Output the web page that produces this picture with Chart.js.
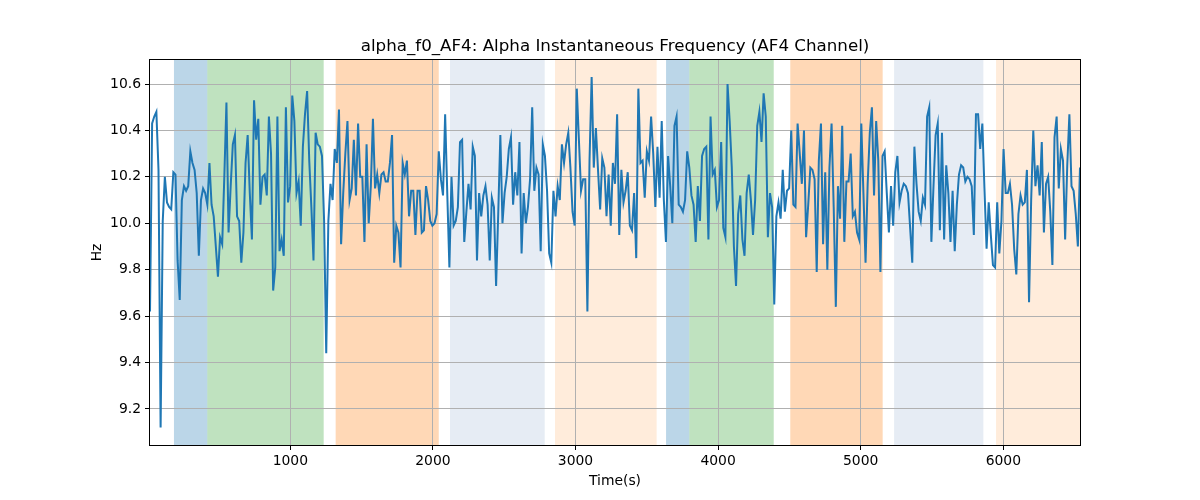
<!DOCTYPE html>
<html>
<head>
<meta charset="utf-8">
<script src="https://cdn.jsdelivr.net/npm/chart.js@4.4.1/dist/chart.umd.min.js"></script>
<style>
  html, body { margin: 0; padding: 0; background: #fff; }
  #wrap { width: 1200px; height: 500px; }
</style>
</head>
<body>
<div id="wrap"><canvas id="alphaChart" width="1200" height="500"></canvas></div>
<script>
// alpha instantaneous frequency (Hz), left to right
const freqHz = [
  9.62, 10.43, 10.46, 10.48, 10.23, 9.12, 10.01, 10.2, 10.09, 10.07, 10.06, 10.22, 10.21, 9.84, 9.67, 10.1, 10.16, 10.14, 10.16, 10.31,
  10.26, 10.23, 10.13, 9.86, 10.1, 10.15, 10.13, 10.08, 10.26, 10.08, 10.03, 9.9, 9.77, 9.94, 9.91, 10.2, 10.52, 9.96, 10.16, 10.34,
  10.38, 10.03, 10.01, 9.83, 9.96, 10.26, 10.38, 10.13, 9.93, 10.53, 10.36, 10.45, 10.08, 10.2, 10.21, 10.12, 10.46,
  10.3, 9.71, 9.81, 10.46, 9.88, 9.93, 9.86, 10.5, 10.09, 10.16, 10.55, 10.44, 10.13, 10.18, 9.99, 10.33, 10.47, 10.57, 10.27, 10.07,
  9.84, 10.39, 10.34, 10.33, 10.29, 10.01, 9.44, 10.01, 10.17, 10.1, 10.32, 10.26, 10.49, 9.91, 10.13, 10.3, 10.44, 10.1, 10.15, 10.36,
  10.12, 10.43, 10.2, 10.2, 9.92, 10.34, 10.0, 10.16, 10.45, 10.15, 10.21, 10.13, 10.21, 10.22, 10.18,
  10.18, 10.26, 10.38, 9.83, 9.99, 9.96, 9.81, 10.26, 10.21, 10.27, 10.03, 10.14, 10.14, 9.95, 10.14, 10.14, 9.96, 9.97, 10.16, 10.1,
  10.01, 9.99, 10.0, 10.04, 10.31, 10.19, 10.12, 10.47, 10.13, 9.81, 10.2, 9.99, 10.01, 10.07, 10.35, 10.36, 9.92, 10.05, 10.17, 10.06,
  10.33, 10.29, 9.84, 10.13, 10.03, 10.12, 10.16, 10.08, 9.84, 10.11, 10.07, 9.73, 10.04, 10.38, 10.0,
  10.13, 10.2, 10.32, 10.37, 10.08, 10.22, 10.12, 10.35, 9.87, 10.13, 10.0, 10.07, 10.19, 10.5, 10.14, 10.24, 10.21, 9.88, 10.34, 10.29,
  10.14, 9.87, 9.83, 10.14, 10.03, 10.16, 10.1, 10.34, 10.26, 10.34, 10.39, 10.24, 10.05, 9.99, 10.58, 10.36, 10.14, 10.19, 10.19, 9.62,
  10.27, 10.63, 10.24, 10.41, 10.23, 10.06, 10.28, 10.24, 10.03, 10.21, 9.99, 10.26, 10.17, 10.47, 9.95,
  10.23, 10.09, 10.14, 10.22, 9.99, 9.97, 10.13, 9.85, 10.58, 10.26, 10.27, 10.11, 10.31, 10.27, 10.46, 10.3, 10.07, 10.33, 10.11, 10.44,
  10.1, 9.92, 10.29, 10.16, 10.0, 10.42, 10.46, 10.08, 10.07, 10.05, 10.1, 10.31, 10.24, 10.12, 10.08, 9.92, 10.16, 10.01, 10.29, 10.32,
  10.33, 9.93, 10.46, 10.21, 10.23, 10.07, 10.1, 10.35, 9.98, 9.94, 10.6, 10.44, 10.24, 9.9, 9.73,
  10.04, 10.12, 9.93, 9.86, 10.13, 10.21, 10.1, 9.95, 10.1, 10.42, 10.48, 10.35, 10.56, 10.46, 9.94, 10.13, 10.07, 9.65, 10.03, 10.09,
  10.02, 10.23, 10.05, 10.14, 10.15, 10.4, 10.08, 10.07, 10.43, 10.3, 10.17, 10.4, 9.94, 10.08, 10.24, 10.23, 10.19, 9.79, 10.27, 10.43,
  9.91, 10.22, 9.8, 10.24, 10.43, 10.07, 9.64, 10.16, 10.02, 10.42, 9.92, 10.18, 10.18, 10.3, 10.03,
  10.05, 9.96, 9.93, 10.43, 10.13, 9.83, 10.17, 10.39, 10.5, 10.12, 10.44, 10.27, 9.79, 10.29, 10.31, 10.13, 9.96, 10.16, 9.99, 10.22,
  10.29, 10.09, 10.14, 10.17, 10.16, 10.13, 9.98, 9.83, 10.33, 10.17, 10.05, 10.01, 10.11, 10.08, 10.46, 10.5, 9.92, 10.16, 10.38, 10.43,
  9.97, 10.39, 9.93, 10.25, 10.13, 9.92, 10.14, 9.88, 10.08, 10.21, 10.25, 10.24, 10.18, 10.2, 10.19,
  10.16, 9.95, 10.47, 10.47, 10.32, 10.43, 10.15, 9.89, 10.09, 9.95, 9.82, 9.81, 10.09, 9.87, 10.01, 10.32, 10.13, 10.13, 10.17, 10.08,
  9.89, 9.78, 10.04, 10.12, 10.08, 10.09, 10.23, 9.66, 10.1, 10.4, 10.16, 10.25, 10.12, 10.35, 9.96, 10.17, 10.2, 10.05, 9.82, 10.37,
  10.46, 10.15, 10.32, 10.27, 9.93, 10.25, 10.47, 10.16, 10.14, 10.04, 9.9, 10.24
];
const sampleStart = 16;     // s, time of first sample
const sampleStep = 14.89;   // s between samples

// shaded segments (seconds) and which kind each one is
const spanStart = [184, 418, 1318, 2120, 2856, 3635, 3798, 4506, 5234, 5949];
const spanEnd   = [418, 1234, 2041, 2784, 3569, 3798, 4390, 5154, 5860, 6538];
const spanKind  = [0, 1, 2, 3, 4, 0, 1, 2, 3, 4];

const xTicks = [1000, 2000, 3000, 4000, 5000, 6000];
const yTicks = [9.2, 9.4, 9.6, 9.8, 10.0, 10.2, 10.4, 10.6];

const kindColors = [
  'rgba(31, 119, 180, 0.3)',
  'rgba(44, 160, 44, 0.3)',
  'rgba(255, 127, 14, 0.3)',
  'rgba(176, 196, 222, 0.32)',
  'rgba(255, 127, 14, 0.15)'
];

const points = freqHz.map((v, i) => ({ x: sampleStart + i * sampleStep, y: v }));
const tLast = points[points.length - 1].x;

const FONT = 'DejaVu Sans';

const spansPlugin = {
  id: 'spans',
  beforeDraw(chart) {
    const { ctx, chartArea, scales } = chart;
    ctx.save();
    ctx.fillStyle = '#fff';
    ctx.fillRect(0, 0, chart.width, chart.height);
    ctx.beginPath();
    ctx.rect(chartArea.left, chartArea.top, chartArea.right - chartArea.left, chartArea.bottom - chartArea.top);
    ctx.clip();
    spanStart.forEach((s, i) => {
      const x1 = scales.x.getPixelForValue(s);
      const x2 = scales.x.getPixelForValue(spanEnd[i]);
      ctx.fillStyle = kindColors[spanKind[i]];
      ctx.fillRect(x1, chartArea.top, x2 - x1, chartArea.bottom - chartArea.top);
    });
    ctx.restore();
  },
  afterDraw(chart) {
    const { ctx, chartArea } = chart;
    ctx.save();
    ctx.strokeStyle = '#000';
    ctx.lineWidth = 1;
    ctx.strokeRect(Math.round(chartArea.left) - 0.5, Math.round(chartArea.top) - 0.5,
      Math.round(chartArea.right - chartArea.left) + 1, Math.round(chartArea.bottom - chartArea.top) + 1);

    ctx.fillStyle = '#000';
    ctx.textAlign = 'center';
    ctx.textBaseline = 'middle';
    ctx.font = '16.7px "' + FONT + '"';
    ctx.fillText('alpha_f0_AF4: Alpha Instantaneous Frequency (AF4 Channel)', (chartArea.left + chartArea.right) / 2, 46.5);

    ctx.font = '13.9px "' + FONT + '"';
    ctx.fillText('Time(s)', (chartArea.left + chartArea.right) / 2, 481);
    ctx.translate(97, (chartArea.top + chartArea.bottom) / 2);
    ctx.rotate(-Math.PI / 2);
    ctx.fillText('Hz', 0, 0);
    ctx.restore();
  }
};

new Chart(document.getElementById('alphaChart'), {
  type: 'line',
  data: {
    datasets: [{
      data: points,
      borderColor: '#1f77b4',
      borderWidth: 2,
      pointRadius: 0,
      tension: 0,
      fill: false
    }]
  },
  options: {
    responsive: false,
    animation: false,
    devicePixelRatio: 1,
    layout: { padding: { left: 0, right: 120, top: 60, bottom: 0 } },
    plugins: { legend: { display: false }, tooltip: { enabled: false }, title: { display: false } },
    scales: {
      x: {
        type: 'linear',
        min: sampleStart,
        max: tLast,
        afterBuildTicks: (s) => { s.ticks = xTicks.map(v => ({ value: v })); },
        afterFit: (s) => { s.height = 55; },
        ticks: { color: '#000', font: { family: FONT, size: 13.9 }, padding: 3, maxRotation: 0,
          callback: (v) => String(v) },
        grid: { color: '#b0b0b0', lineWidth: 1, tickColor: '#000', tickLength: 5, drawTicks: true },
        border: { display: false }
      },
      y: {
        min: 9.0449,
        max: 10.7034,
        afterBuildTicks: (s) => { s.ticks = yTicks.map(v => ({ value: v })); },
        afterFit: (s) => { s.width = 150; },
        ticks: { color: '#000', font: { family: FONT, size: 13.9 }, padding: 4,
          callback: (v) => Number(v).toFixed(1) },
        grid: { color: '#b0b0b0', lineWidth: 1, tickColor: '#000', tickLength: 5, drawTicks: true },
        border: { display: false }
      }
    }
  },
  plugins: [spansPlugin]
});
</script>
</body>
</html>
